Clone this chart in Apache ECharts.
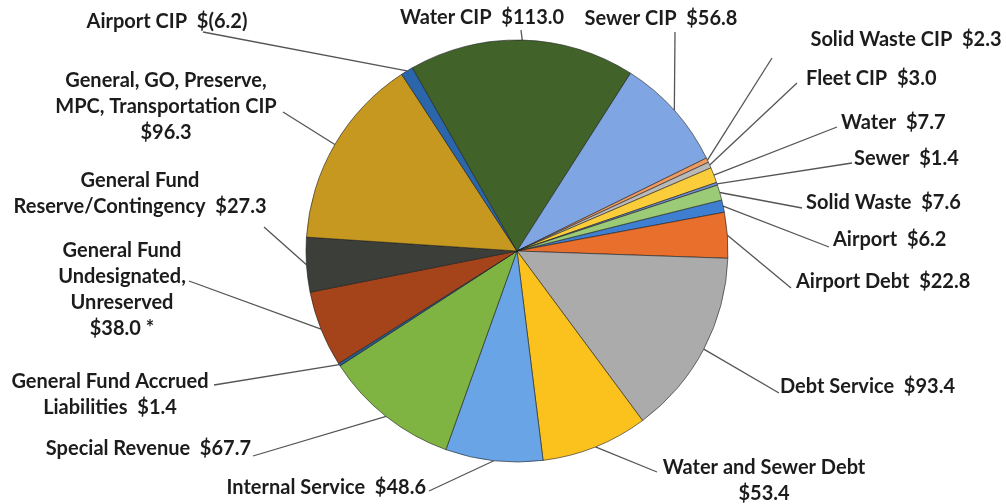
<!DOCTYPE html>
<html>
<head>
<meta charset="utf-8">
<title>Fund balances</title>
<script src="https://cdn.jsdelivr.net/npm/echarts@6/dist/echarts.min.js"></script>
<style>
  html, body { margin: 0; padding: 0; background: #fff; }
  #chart { width: 1006px; height: 504px; }
</style>
</head>
<body>
<div id="chart"></div>
<script>
// slices, in the order the spreadsheet draws them (clockwise from Airport)
const categories = [
  "Airport", "Airport Debt", "Debt Service", "Water and Sewer Debt",
  "Internal Service", "Special Revenue", "General Fund Accrued Liabilities",
  "General Fund Undesignated, Unreserved", "General Fund Reserve/Contingency",
  "General, GO, Preserve, MPC, Transportation CIP", "Airport CIP", "Water CIP",
  "Sewer CIP", "Solid Waste CIP", "Fleet CIP", "Water", "Sewer", "Solid Waste"
];
// $ millions (Airport CIP is negative, drawn by its size)
const values = [6.2, 22.8, 93.4, 53.4, 48.6, 67.7, 1.4, 38.0, 27.3, 96.3, -6.2, 113.0, 56.8, 2.3, 3.0, 7.7, 1.4, 7.6];
// how each label is broken into lines ("\n" at the end puts the amount on its own line)
const labelNames = [
  "Airport", "Airport Debt", "Debt Service", "Water and Sewer Debt\n",
  "Internal Service", "Special Revenue", "General Fund Accrued\nLiabilities",
  "General Fund\nUndesignated,\nUnreserved\n", "General Fund\nReserve/Contingency",
  "General, GO, Preserve,\nMPC, Transportation CIP\n", "Airport CIP", "Water CIP",
  "Sewer CIP", "Solid Waste CIP", "Fleet CIP", "Water", "Sewer", "Solid Waste"
];
const notes = ["", "", "", "", "", "", "", " *", "", "", "", "", "", "", "", "", "", ""];

const colors = [
  "#3f7fd2", "#e96f2c", "#ababab", "#fbc21d", "#69a5e6", "#7fb443",
  "#255e91", "#a5431b", "#3b3e39", "#c6981f", "#2b66aa", "#41632a",
  "#7fa5e2", "#ef9a60", "#b9b9b9", "#fbcd3a", "#6f8fcf", "#9ccb78"
];

// label anchors [x, y, align] and where each leader line ends
const labelAnchor = [
  [833, 240, "left"], [796, 282, "left"], [780, 387, "left"], [764, 481, "center"],
  [426, 488, "right"], [251, 449, "right"], [110, 395, "center"],
  [122, 290, "center"], [140, 194, "center"], [166, 107, "center"],
  [167, 22, "center"], [482, 18, "center"], [661, 19, "center"],
  [906, 40, "center"], [806, 79, "left"], [841, 123, "left"],
  [854, 159, "left"], [806, 203, "left"]
];
const lineEnd = [
  [829, 247], [791, 288], [779, 393], [657, 472], [429, 491], [253, 456],
  [214, 385], [189, 281], [264, 227], [283, 112], [203, 32], [521, 30],
  [675, 32], [772, 58], [797, 83], [837, 127], [852, 163], [802, 208]
];

function money(v) {
  return v < 0 ? "$(" + Math.abs(v).toFixed(1) + ")" : "$" + v.toFixed(1);
}

const pieData = categories.map(function (c, i) {
  const name = labelNames[i];
  const sep = name.endsWith("\n") ? "" : "  ";
  return {
    name: c,
    value: Math.abs(values[i]),
    labelText: name + sep + money(values[i]) + notes[i],
    itemStyle: { color: colors[i] }
  };
});

const chart = echarts.init(document.getElementById("chart"));
chart.setOption({
  backgroundColor: "#ffffff",
  animation: false,
  series: [
    {
      type: "pie",
      center: [517, 251],
      radius: 211,
      startAngle: 14,
      clockwise: true,
      avoidLabelOverlap: false,
      data: pieData,
      itemStyle: {
        borderColor: "rgba(30,30,30,0.75)",
        borderWidth: 0.8
      },
      label: {
        show: true,
        position: "outside",
        formatter: function (p) { return p.data.labelText; },
        fontFamily: "Lato",
        fontWeight: "bold",
        fontSize: 20,
        lineHeight: 26,
        color: "#1c1c1c"
      },
      labelLine: {
        show: true,
        length: 10,
        length2: 10,
        lineStyle: { color: "#555", width: 1.3 }
      },
      labelLayout: function (p) {
        const i = p.dataIndex;
        const a = labelAnchor[i];
        const out = { x: a[0], y: a[1], align: a[2], verticalAlign: "middle" };
        if (p.labelLinePoints) {
          out.labelLinePoints = [p.labelLinePoints[0], lineEnd[i]];
        }
        return out;
      },
      emphasis: { disabled: true }
    }
  ]
});
</script>
</body>
</html>
